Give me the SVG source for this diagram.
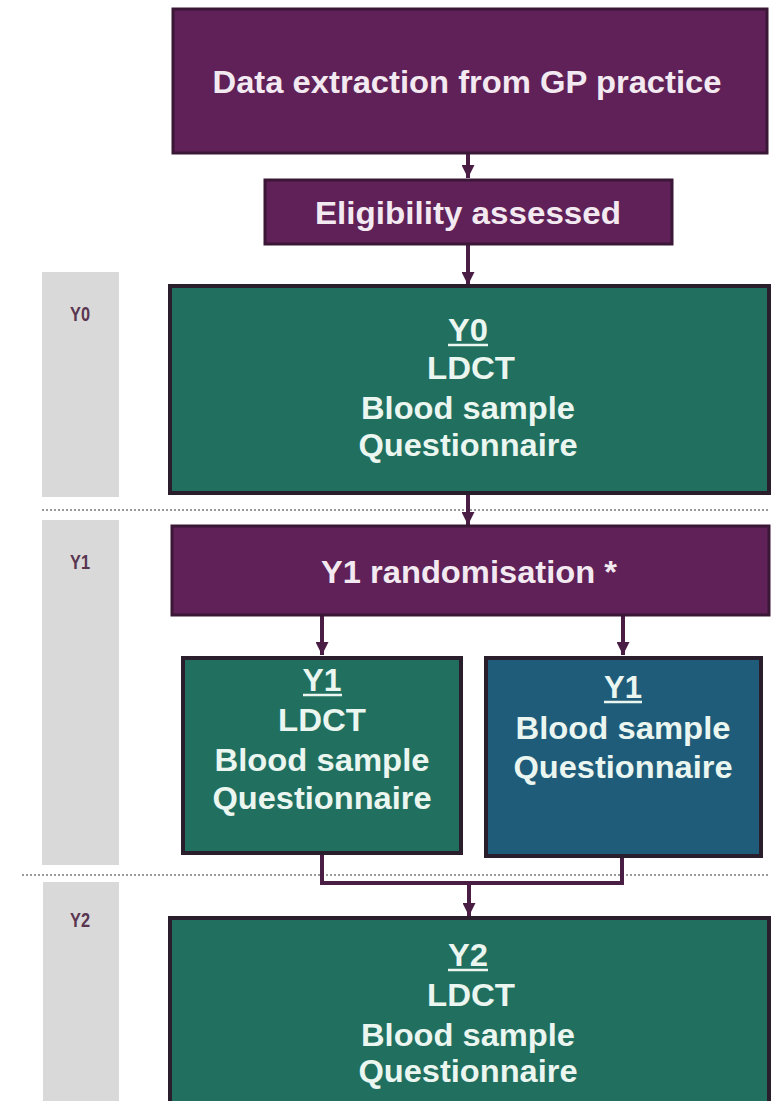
<svg xmlns="http://www.w3.org/2000/svg" width="777" height="1101" viewBox="0 0 777 1101">
<style>
.purple{fill:#5f2157;stroke:#3a1736;stroke-width:3}
.green{fill:#216f5f;stroke:#2a1d2c;stroke-width:4}
.blue{fill:#1f5c7a;stroke:#2a1d2c;stroke-width:4}
.band{fill:#d9d9d9}
.lbl{font-family:"Liberation Sans",Arial,sans-serif;font-weight:bold;font-size:20px;fill:#5a3550;text-anchor:middle}
.t{font-family:"Liberation Sans",Arial,sans-serif;font-weight:bold;font-size:31px;text-anchor:middle}
.tp{fill:#f3e9f1}
.tg{fill:#eaf6ef}
.ul{stroke:#eaf6ef;stroke-width:2.5}
.conn{fill:none;stroke:#4a1d45;stroke-width:4}
.dot{stroke:#9a9a9a;stroke-width:2;stroke-dasharray:2 2}
</style>
<defs>
<marker id="ah" markerWidth="13" markerHeight="13" refX="10" refY="5" orient="auto" markerUnits="userSpaceOnUse" viewBox="0 0 10 10">
<path d="M0,0 L10,5 L0,10 z" fill="#4a1d45"/>
</marker>
</defs>
<rect width="777" height="1101" fill="#ffffff"/>

<g id="bands">
<rect class="band" x="42" y="272" width="77" height="225"/>
<rect class="band" x="42" y="520" width="77" height="345"/>
<rect class="band" x="43" y="882" width="76" height="219"/>
<text class="lbl" x="80" y="321" textLength="20" lengthAdjust="spacingAndGlyphs">Y0</text>
<text class="lbl" x="80" y="569" textLength="20" lengthAdjust="spacingAndGlyphs">Y1</text>
<text class="lbl" x="80" y="927" textLength="20" lengthAdjust="spacingAndGlyphs">Y2</text>
<line class="dot" x1="42" y1="510" x2="770" y2="510"/>
<line class="dot" x1="22" y1="875" x2="770" y2="875"/>
</g>

<g id="connectors">
<line class="conn" x1="468" y1="154" x2="468" y2="178" marker-end="url(#ah)"/>
<line class="conn" x1="468" y1="244" x2="468" y2="285" marker-end="url(#ah)"/>
<line class="conn" x1="468" y1="495" x2="468" y2="525" marker-end="url(#ah)"/>
<line class="conn" x1="322" y1="616" x2="322" y2="655" marker-end="url(#ah)"/>
<line class="conn" x1="623" y1="616" x2="623" y2="655" marker-end="url(#ah)"/>
<polyline class="conn" points="322,855 322,883 622,883 622,858"/>
<line class="conn" x1="469" y1="883" x2="469" y2="916" marker-end="url(#ah)"/>
</g>

<g id="n_extract">
<rect class="purple" x="173" y="9" width="594" height="144"/>
<text class="t tp" x="467" y="93" textLength="509" lengthAdjust="spacingAndGlyphs">Data extraction from GP practice</text>
</g>

<g id="n_elig">
<rect class="purple" x="265" y="180" width="407" height="64"/>
<text class="t tp" x="468" y="224" textLength="306" lengthAdjust="spacingAndGlyphs">Eligibility  assessed</text>
</g>

<g id="n_y0">
<rect class="green" x="170" y="286" width="599" height="207"/>
<text class="t tg" x="468" y="341" textLength="40" lengthAdjust="spacingAndGlyphs">Y0</text>
<line class="ul" x1="448" y1="345" x2="488" y2="345"/>
<text class="t tg" x="471" y="379" textLength="88" lengthAdjust="spacingAndGlyphs">LDCT</text>
<text class="t tg" x="468" y="419" textLength="214" lengthAdjust="spacingAndGlyphs">Blood sample</text>
<text class="t tg" x="468" y="456" textLength="219" lengthAdjust="spacingAndGlyphs">Questionnaire</text>
</g>

<g id="n_rand">
<rect class="purple" x="172" y="526" width="597" height="89"/>
<text class="t tp" x="469" y="583" textLength="296" lengthAdjust="spacingAndGlyphs">Y1 randomisation *</text>
</g>

<g id="n_y1a">
<rect class="green" x="183" y="658" width="278" height="195"/>
<text class="t tg" x="322" y="691" textLength="39" lengthAdjust="spacingAndGlyphs">Y1</text>
<line class="ul" x1="303" y1="695" x2="342" y2="695"/>
<text class="t tg" x="322" y="731" textLength="88" lengthAdjust="spacingAndGlyphs">LDCT</text>
<text class="t tg" x="322" y="771" textLength="215" lengthAdjust="spacingAndGlyphs">Blood sample</text>
<text class="t tg" x="322" y="809" textLength="219" lengthAdjust="spacingAndGlyphs">Questionnaire</text>
</g>

<g id="n_y1b">
<rect class="blue" x="486" y="658" width="275" height="198"/>
<text class="t tg" x="623" y="698" textLength="38" lengthAdjust="spacingAndGlyphs">Y1</text>
<line class="ul" x1="604" y1="702" x2="642" y2="702"/>
<text class="t tg" x="623" y="739" textLength="215" lengthAdjust="spacingAndGlyphs">Blood sample</text>
<text class="t tg" x="623" y="778" textLength="219" lengthAdjust="spacingAndGlyphs">Questionnaire</text>
</g>

<g id="n_y2">
<rect class="green" x="170" y="918" width="599" height="190"/>
<text class="t tg" x="468" y="966" textLength="40" lengthAdjust="spacingAndGlyphs">Y2</text>
<line class="ul" x1="448" y1="970" x2="488" y2="970"/>
<text class="t tg" x="471" y="1006" textLength="88" lengthAdjust="spacingAndGlyphs">LDCT</text>
<text class="t tg" x="468" y="1046" textLength="214" lengthAdjust="spacingAndGlyphs">Blood sample</text>
<text class="t tg" x="468" y="1082" textLength="219" lengthAdjust="spacingAndGlyphs">Questionnaire</text>
</g>
</svg>
